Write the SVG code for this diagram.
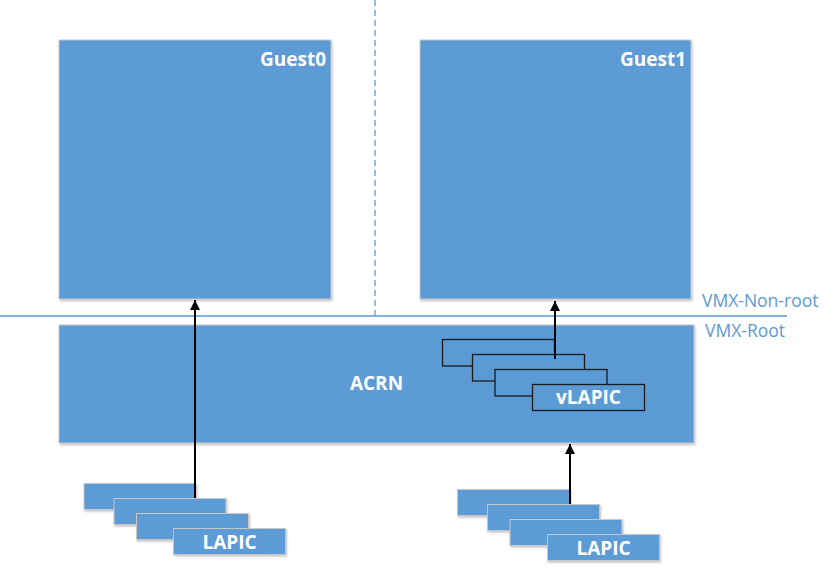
<svg xmlns="http://www.w3.org/2000/svg" width="831" height="573" viewBox="0 0 831 573">
<defs>
<marker id="ah" viewBox="0 0 10 10" refX="10" refY="5" markerWidth="10" markerHeight="10" markerUnits="userSpaceOnUse" orient="auto"><path d="M0,0 L10,5 L0,10 z" fill="#000"/></marker>
<filter id="sh" x="-10%" y="-10%" width="130%" height="140%"><feDropShadow dx="1" dy="1.5" stdDeviation="1" flood-color="#000" flood-opacity="0.25"/></filter>
</defs>
<style>
.box{fill:#5b9bd5;stroke:#c8c8c8;stroke-width:1;filter:url(#sh)}
.vbox{fill:#5b9bd5;stroke:#1a1a1a;stroke-width:1.3}
.lbl{font-family:"Open Sans","Noto Sans","DejaVu Sans",sans-serif;font-weight:bold;fill:#fff;font-size:19px}
.side{font-family:"Open Sans","Noto Sans","DejaVu Sans",sans-serif;fill:#5b9bd5;font-size:17.5px}
.conn{stroke:#000;stroke-width:2;fill:none;marker-end:url(#ah)}
</style>
<rect width="831" height="573" fill="#fff"/>
<g id="separators">
<line x1="375" y1="0" x2="375" y2="316" stroke="#5b9bd5" stroke-width="1.3" stroke-dasharray="6,4"/>
<line x1="0" y1="316" x2="787" y2="316" stroke="#5b9bd5" stroke-width="1.3"/>
<text class="side" x="702" y="306.5">VMX-Non-root</text>
<text class="side" x="705" y="336.5">VMX-Root</text>
</g>
<g id="guest0">
<rect class="box" x="59" y="40" width="272" height="259"/>
<text class="lbl" x="326" y="66" text-anchor="end">Guest0</text>
</g>
<g id="guest1">
<rect class="box" x="420" y="40" width="271" height="259"/>
<text class="lbl" x="686" y="66" text-anchor="end">Guest1</text>
</g>
<g id="acrn">
<rect class="box" x="59" y="325" width="635" height="118"/>
<text class="lbl" x="376.5" y="390" text-anchor="middle">ACRN</text>
</g>
<g id="vlapic">
<rect class="vbox" x="442.5" y="339.5" width="112" height="26.5"/>
<rect class="vbox" x="472.5" y="354.5" width="112" height="26.5"/>
<rect class="vbox" x="495" y="369.5" width="112" height="26.5"/>
<rect class="vbox" x="532.5" y="384.5" width="112" height="26"/>
<text class="lbl" x="588.5" y="404" text-anchor="middle">vLAPIC</text>
</g>
<g id="lapic0">
<rect class="box" x="84" y="483.5" width="112" height="26"/>
<rect class="box" x="114" y="498.5" width="112" height="26"/>
<rect class="box" x="136.5" y="513.5" width="112" height="26"/>
<rect class="box" x="173.5" y="528.5" width="112" height="26"/>
<text class="lbl" x="229.5" y="548.5" text-anchor="middle">LAPIC</text>
</g>
<g id="lapic1">
<rect class="box" x="457.5" y="489.5" width="112" height="26"/>
<rect class="box" x="487.5" y="504.5" width="112" height="26"/>
<rect class="box" x="510" y="519.5" width="112" height="26"/>
<rect class="box" x="547.5" y="534.5" width="112" height="26"/>
<text class="lbl" x="603.5" y="554.5" text-anchor="middle">LAPIC</text>
</g>
<g id="connectors">
<line class="conn" x1="195" y1="498" x2="195" y2="300"/>
<line class="conn" x1="555" y1="359" x2="555" y2="301"/>
<line class="conn" x1="570" y1="504" x2="570" y2="444"/>
</g>
</svg>
